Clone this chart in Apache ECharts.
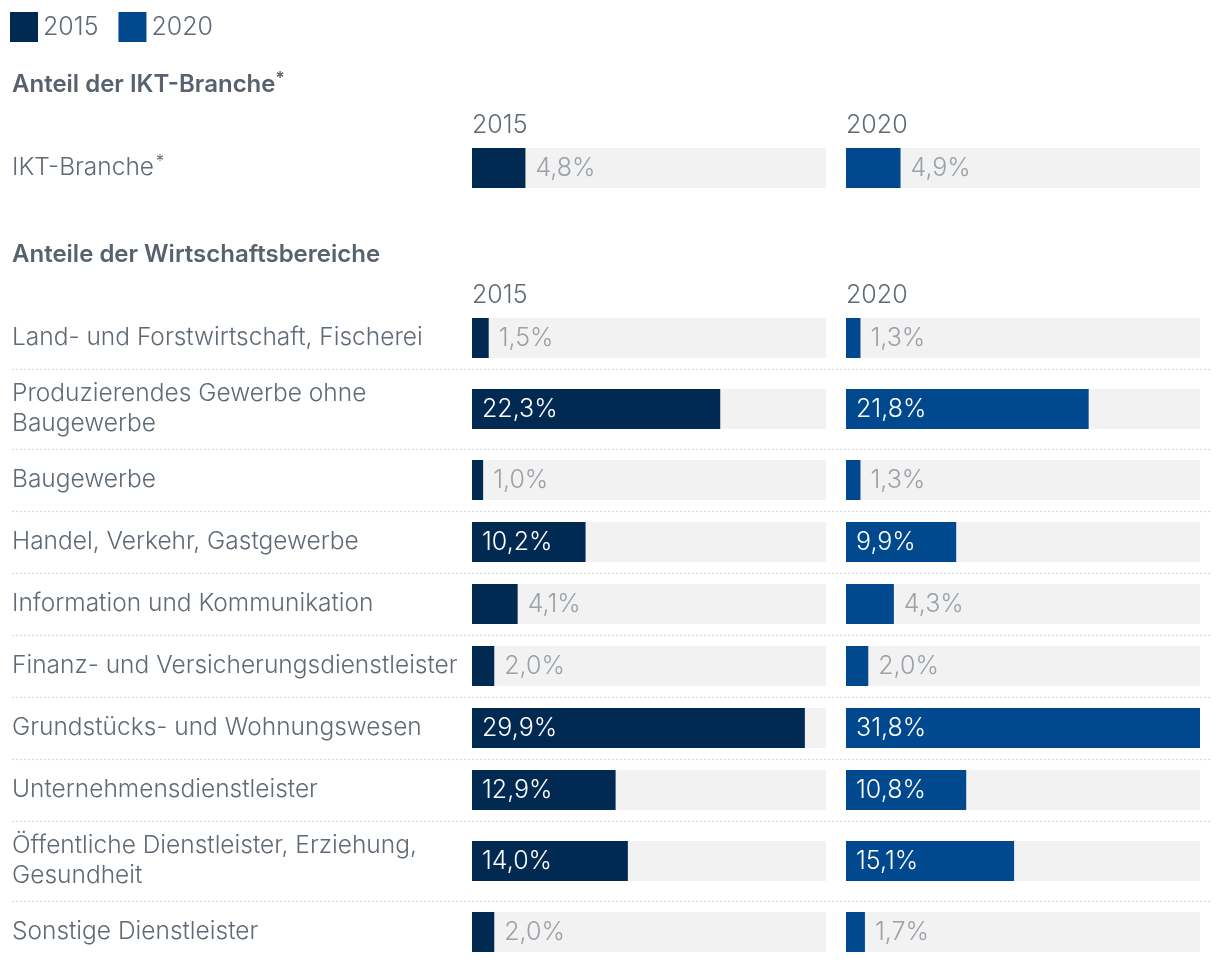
<!DOCTYPE html>
<html><head><meta charset="utf-8">
<script src="https://cdn.jsdelivr.net/npm/echarts@6/dist/echarts.min.js"></script>
<style>html,body{margin:0;padding:0;background:#fff}#c{width:1220px;height:962px}</style>
</head><body><div id="c"></div>
<script>
// ---- data ----
const years = ['2015', '2020'];
const sectionTitles = ['Anteil der IKT-Branche*', 'Anteile der Wirtschaftsbereiche'];
const ictCategories = ['IKT-Branche*'];
const ict2015 = [4.8];
const ict2020 = [4.9];
const sectors = [
  'Land- und Forstwirtschaft, Fischerei',
  'Produzierendes Gewerbe ohne Baugewerbe',
  'Baugewerbe',
  'Handel, Verkehr, Gastgewerbe',
  'Information und Kommunikation',
  'Finanz- und Versicherungsdienstleister',
  'Grundstücks- und Wohnungswesen',
  'Unternehmensdienstleister',
  'Öffentliche Dienstleister, Erziehung, Gesundheit',
  'Sonstige Dienstleister'
];
const sector2015 = [1.5, 22.3, 1.0, 10.2, 4.1, 2.0, 29.9, 12.9, 14.0, 2.0];
const sector2020 = [1.3, 21.8, 1.3, 9.9, 4.3, 2.0, 31.8, 10.8, 15.1, 1.7];

// ---- layout / style ----
const FONT = 'Inter';
const yearColors = ['#002a52', '#00498e'];
const textColor = '#5f6a75';
const titleColor = '#57626d';
const valueColor = '#9aa1a8';
const trackColor = '#f2f2f2';
const colLeft = [472, 846];
const colWidth = 354;
const barH = 40;
const labelX = 12;
const labelWidth = 456;
const fontSize = 24.5;
const numSize = 25;
const lineH = 30;

const maxVal = Math.max(...ict2015, ...ict2020, ...sector2015, ...sector2020);

const ctx = document.createElement('canvas').getContext('2d');
ctx.font = '300 ' + fontSize + 'px ' + FONT;
function lineCount(t) {
  const words = t.split(' ');
  let n = 1, cur = '';
  for (const w of words) {
    const test = cur ? cur + ' ' + w : w;
    if (ctx.measureText(test).width > labelWidth && cur) { n++; cur = w; } else cur = test;
  }
  return n;
}
const fmt = v => v.toFixed(1).replace('.', ',') + '%';
const supStar = t => t.replace('*', '{sup|*}');

const sections = [
  { title: sectionTitles[0], titleY: 85, headerY: 125, firstTop: 137, cats: ictCategories, vals: [ict2015, ict2020] },
  { title: sectionTitles[1], titleY: 255, headerY: 295, firstTop: 307, cats: sectors, vals: [sector2015, sector2020] }
];

const grids = [], xAxes = [], yAxes = [], series = [], graphics = [];
sections.forEach(sec => {
  graphics.push({ type: 'text', x: labelX, y: sec.titleY, style: {
    text: supStar(sec.title), fontFamily: FONT, fontSize: 24, fontWeight: 600, fill: titleColor, verticalAlign: 'middle', lineHeight: 30,
    rich: { sup: { fontFamily: FONT, fontSize: 17, fontWeight: 600, fill: titleColor, verticalAlign: 'top', lineHeight: 30, padding: [0, 0, 8, 0] } }
  } });
  years.forEach((yr, j) => {
    graphics.push({ type: 'text', x: colLeft[j], y: sec.headerY, style: { text: yr, fontFamily: FONT, fontSize: numSize, fontWeight: 300, fill: textColor, verticalAlign: 'middle' } });
  });
  let top = sec.firstTop;
  sec.cats.forEach((cat, i) => {
    const rowH = lineCount(cat) > 1 ? 80 : 62;
    if (i > 0) {
      graphics.push({ type: 'line', shape: { x1: 12, y1: top + 0.5, x2: 1212, y2: top + 0.5 }, style: { stroke: '#d3d6da', lineWidth: 1.2, lineDash: [2, 2] } });
    }
    years.forEach((yr, j) => {
      const gi = grids.length;
      grids.push({ left: colLeft[j], width: colWidth, top: top + (rowH - barH) / 2, height: barH });
      xAxes.push({ type: 'value', gridIndex: gi, min: 0, max: maxVal, show: false });
      yAxes.push({
        type: 'category', gridIndex: gi, data: [cat],
        axisLine: { show: false }, axisTick: { show: false }, splitLine: { show: false },
        axisLabel: j === 0 ? {
          show: true, align: 'left', margin: colLeft[0] - labelX, width: labelWidth, overflow: 'break',
          fontFamily: FONT, fontSize: fontSize, fontWeight: 300, lineHeight: lineH, color: textColor,
          formatter: supStar,
          rich: { sup: { fontFamily: FONT, fontSize: 17, fontWeight: 300, color: textColor, verticalAlign: 'top', lineHeight: lineH, padding: [0, 0, 8, 0] } }
        } : { show: false }
      });
      const v = sec.vals[j][i];
      const inside = v >= 8;
      series.push({
        type: 'bar', name: yr, xAxisIndex: gi, yAxisIndex: gi, barWidth: barH,
        showBackground: true, backgroundStyle: { color: trackColor },
        itemStyle: { color: yearColors[j] },
        label: {
          show: true, position: inside ? 'insideLeft' : 'right', distance: 10,
          formatter: p => fmt(p.value), fontFamily: FONT, fontSize: numSize, fontWeight: 300,
          color: inside ? '#ffffff' : valueColor
        },
        silent: true, animation: false,
        data: [v]
      });
    });
    top += rowH;
  });
});

const chart = echarts.init(document.getElementById('c'));
chart.setOption({
  animation: false,
  legend: {
    left: 5, top: 7, itemWidth: 28, itemHeight: 30, itemGap: 20, icon: 'rect',
    data: years, selectedMode: false,
    textStyle: { fontFamily: FONT, fontSize: numSize, fontWeight: 300, color: textColor }
  },
  grid: grids, xAxis: xAxes, yAxis: yAxes, series: series, graphic: graphics
});
</script>
</body></html>
